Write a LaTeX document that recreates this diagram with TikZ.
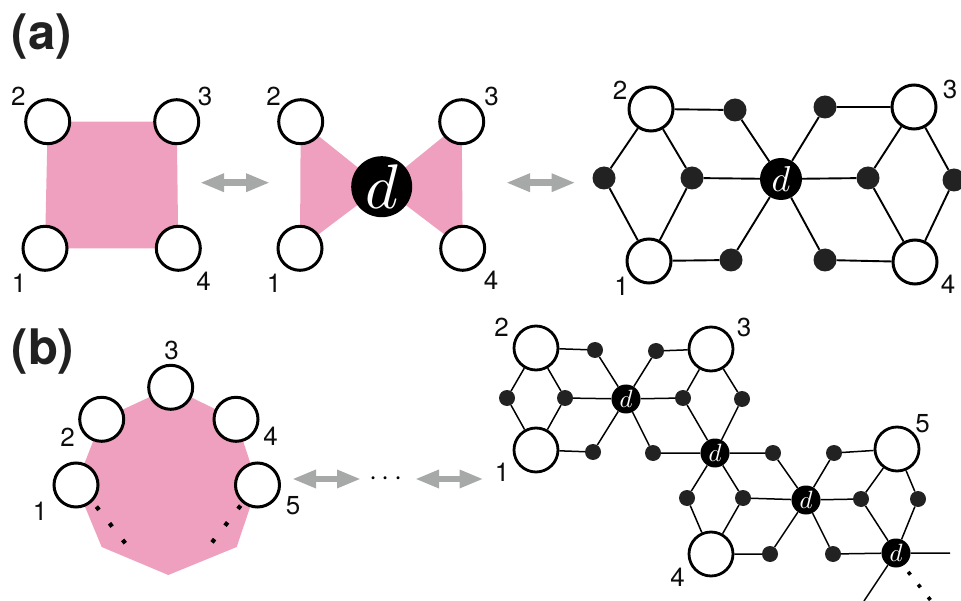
\documentclass[tikz,border=0pt]{standalone}
\usepackage{graphicx}
\usepackage{fontspec}
\setmainfont{TeX Gyre Heros}
\usetikzlibrary{arrows.meta}
\definecolor{pinkf}{RGB}{239,160,190}
\definecolor{arrg}{RGB}{166,169,167}
\definecolor{dotc}{RGB}{34,34,34}
\newcommand{\dsym}[1]{\scalebox{#1}{$d$}}
\begin{document}
\begin{tikzpicture}[x=1pt,y=-1pt,
  big/.style={circle,draw=black,line width=3pt,fill=white,minimum size=44pt,inner sep=0pt},
  bigB/.style={big,line width=2.8pt,minimum size=44pt},
  dotA/.style={circle,fill=dotc,minimum size=23pt,inner sep=0pt},
  dotB/.style={circle,fill=dotc,minimum size=16pt,inner sep=0pt},
  dM/.style={circle,fill=black,minimum size=61pt,inner sep=0pt,text=white},
  dA/.style={circle,fill=black,minimum size=42pt,inner sep=0pt,text=white},
  dB/.style={circle,fill=black,minimum size=29pt,inner sep=0pt,text=white},
  lab/.style={inner sep=0pt,text=black!95,font=\fontsize{26}{26}\selectfont},
  panel/.style={inner sep=0pt,text=black!87,font=\fontsize{49}{49}\selectfont\bfseries},
  dbl/.style={arrg,line width=6.5pt,{Triangle[length=24pt,width=17pt]}-{Triangle[length=24pt,width=17pt]}},
  bondA/.style={line width=1.9pt},
  bondB/.style={line width=1.5pt},
  dotline/.style={line width=4.2pt,dash pattern=on 4.2pt off 17pt}]
\useasboundingbox (0,0) rectangle (961,601);

% ---------- panel labels
\node[panel] (pa) at (41.7,36.7) {(a)};
\node[panel] (pb) at (43,351.7) {(b)};

% ---------- (a) left: square
\coordinate (tl1) at (45,248.3);
\coordinate (tl2) at (47.7,121.7);
\coordinate (tl3) at (176.7,121.7);
\coordinate (tl4) at (178.3,248.3);
\fill[pinkf] (tl1) -- (tl2) -- (tl3) -- (tl4) -- cycle;
\node[big] (TL1) at (tl1) {};
\node[big] (TL2) at (tl2) {};
\node[big] (TL3) at (tl3) {};
\node[big] (TL4) at (tl4) {};
\node[lab] (ltl1) at (19,283) {1};
\node[lab] (ltl2) at (18.3,96.7) {2};
\node[lab] (ltl3) at (205,96.7) {3};
\node[lab] (ltl4) at (203.7,281.7) {4};

% ---------- (a) middle: bow tie
\coordinate (tm1) at (300,248.3);
\coordinate (tm2) at (300.7,121.7);
\coordinate (tm3) at (461.7,121.7);
\coordinate (tm4) at (462.7,248.3);
\coordinate (tmd) at (381.7,186.7);
\fill[pinkf] (tm2) -- (tmd) -- (tm1) -- cycle;
\fill[pinkf] (tm3) -- (tmd) -- (tm4) -- cycle;
\node[big] (TM1) at (tm1) {};
\node[big] (TM2) at (tm2) {};
\node[big] (TM3) at (tm3) {};
\node[big] (TM4) at (tm4) {};
\node[dM] (TMD) at (tmd) {\dsym{6.3}};
\node[lab] (ltm1) at (274,283) {1};
\node[lab] (ltm2) at (273.7,96.7) {2};
\node[lab] (ltm3) at (491.7,96.7) {3};
\node[lab] (ltm4) at (491,280) {4};

% ---------- (a) right: lattice
\node[big] (R1) at (649,261) {};
\node[big] (R2) at (651,109) {};
\node[big] (R3) at (914,107) {};
\node[big] (R4) at (915,262) {};
\node[dA] (RD) at (781,179) {\dsym{3.6}};
\node[dotA] (u1) at (735,110) {};
\node[dotA] (m1) at (692,178) {};
\node[dotA] (l1) at (604,178) {};
\node[dotA] (w1) at (731,260) {};
\node[dotA] (u2) at (825,107) {};
\node[dotA] (m2) at (868,178) {};
\node[dotA] (r2) at (954,180) {};
\node[dotA] (w2) at (825,260) {};
\draw[bondA] (R2) -- (u1) (R2) -- (l1) (R2) -- (m1)
  (R1) -- (l1) (R1) -- (m1) (R1) -- (w1)
  (u1) -- (RD) (m1) -- (RD) (w1) -- (RD)
  (R3) -- (u2) (R3) -- (r2) (R3) -- (m2)
  (R4) -- (r2) (R4) -- (m2) (R4) -- (w2)
  (u2) -- (RD) (m2) -- (RD) (w2) -- (RD);
\node[lab] (lr1) at (621.7,286.7) {1};
\node[lab] (lr2) at (620,90) {2};
\node[lab] (lr3) at (950,89) {3};
\node[lab] (lr4) at (948,284) {4};

% ---------- arrows (a)
\coordinate (ar1a) at (200,182.7);
\coordinate (ar1b) at (270,182.7);
\coordinate (ar2a) at (506,182.7);
\coordinate (ar2b) at (575.5,182.7);
\draw[dbl] (ar1a) -- (ar1b);
\draw[dbl] (ar2a) -- (ar2b);

% ---------- (b) left: polygon
\coordinate (bl1) at (76,485);
\coordinate (bl2) at (101.7,419.3);
\coordinate (bl3) at (170.7,387.3);
\coordinate (bl4) at (236,419.3);
\coordinate (bl5) at (257.5,485);
\coordinate (bp6) at (236.7,547);
\coordinate (bp7) at (168.3,575);
\coordinate (bp8) at (101.7,547);
\fill[pinkf] (bl1) -- (bl2) -- (bl3) -- (bl4) -- (bl5) -- (bp6) -- (bp7) -- (bp8) -- cycle;
\coordinate (dla) at (96.4,506.6);
\coordinate (dlb) at (125.4,543.4);
\coordinate (dra) at (240.6,505.6);
\coordinate (drb) at (212,542.4);
\draw[dotline] (dla) -- (dlb);
\draw[dotline] (dra) -- (drb);
\node[big] (BL1) at (bl1) {};
\node[big] (BL2) at (bl2) {};
\node[big] (BL3) at (bl3) {};
\node[big] (BL4) at (bl4) {};
\node[big] (BL5) at (bl5) {};
\node[lab] (lbl1) at (40,511) {1};
\node[lab] (lbl2) at (67.5,437.5) {2};
\node[lab] (lbl3) at (171.7,350.8) {3};
\node[lab] (lbl4) at (270.5,436) {4};
\node[lab] (lbl5) at (293,505.8) {5};

% ---------- arrows (b)
\coordinate (ar3a) at (292,479);
\coordinate (ar3b) at (361,479);
\coordinate (ar4a) at (415,479);
\coordinate (ar4b) at (483.5,479);
\draw[dbl] (ar3a) -- (ar3b);
\draw[dbl] (ar4a) -- (ar4b);
\node[inner sep=0pt] (dots) at (386,479) {\scalebox{2.9}{$\cdots$}};

% ---------- (b) right: lattice
\node[bigB] (B1) at (536,450) {};
\node[bigB] (B2) at (536,348) {};
\node[bigB] (B3) at (711,349) {};
\node[bigB] (B4) at (711,554) {};
\node[bigB] (B5) at (897,449) {};
\node[dB] (D1) at (626,399) {\dsym{2.5}};
\node[dB] (D2) at (715,453) {\dsym{2.5}};
\node[dB] (D3) at (806,500) {\dsym{2.5}};
\node[dB] (D4) at (896,553) {\dsym{2.5}};
\node[dotB] (a) at (507,398) {};
\node[dotB] (b) at (565,398) {};
\node[dotB] (c) at (595,350) {};
\node[dotB] (e) at (593,452) {};
\node[dotB] (f) at (656,351) {};
\node[dotB] (g) at (683,398) {};
\node[dotB] (h) at (653,453) {};
\node[dotB] (i) at (742,399) {};
\node[dotB] (j) at (687,498) {};
\node[dotB] (k) at (743,498) {};
\node[dotB] (l) at (773,453) {};
\node[dotB] (m) at (770,554) {};
\node[dotB] (n) at (834,453) {};
\node[dotB] (o) at (861,499) {};
\node[dotB] (p) at (918,499) {};
\node[dotB] (q) at (833,554) {};
\coordinate (e1) at (950,553);
\coordinate (e2) at (864,601);
\coordinate (e3a) at (908.2,571.9);
\coordinate (e3b) at (932,602);
\draw[bondB] (B2) -- (a) (B2) -- (b) (B2) -- (c)
  (B1) -- (a) (B1) -- (b) (B1) -- (e)
  (b) -- (D1) (c) -- (D1) (e) -- (D1)
  (D1) -- (f) (D1) -- (g) (D1) -- (h)
  (f) -- (B3) (g) -- (B3) (i) -- (B3)
  (g) -- (D2) (h) -- (D2) (i) -- (D2)
  (D2) -- (j) (D2) -- (k) (D2) -- (l)
  (j) -- (B4) (k) -- (B4) (B4) -- (m)
  (k) -- (D3) (l) -- (D3) (m) -- (D3)
  (D3) -- (n) (D3) -- (o) (D3) -- (q)
  (n) -- (B5) (o) -- (B5) (p) -- (B5)
  (o) -- (D4) (p) -- (D4) (q) -- (D4)
  (D4) -- (e1) (D4) -- (e2);
\draw[line width=3.6pt,dash pattern=on 3.6pt off 12.5pt] (e3a) -- (e3b);
\node[lab] (lb1) at (502,472.5) {1};
\node[lab] (lb2) at (501.7,327.5) {2};
\node[lab] (lb3) at (744,327.5) {3};
\node[lab] (lb4) at (677.5,577.5) {4};
\node[lab] (lb5) at (922.5,424) {5};
\end{tikzpicture}
\end{document}
